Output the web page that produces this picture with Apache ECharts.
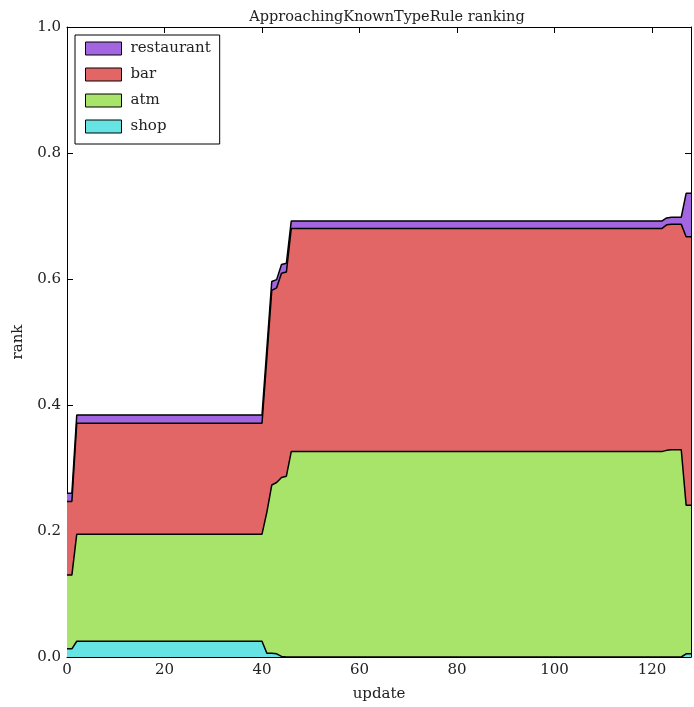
<!DOCTYPE html>
<html>
<head>
<meta charset="utf-8">
<script src="https://cdn.jsdelivr.net/npm/echarts@6/dist/echarts.min.js"></script>
<style>
  html, body { margin: 0; height: 100%; background: #fff; }
  #chart { width: 694px; height: 707px; }
</style>
</head>
<body>
<div id="chart"></div>
<script>
  // x positions where the curves bend (straight segments in between)
  const updates = [0, 1, 2, 40, 41, 42, 43, 44, 45, 46, 122, 123, 124, 126, 127, 128];

  // per-type share (bottom -> top)
  const shop       = [0.013, 0.013, 0.025, 0.025, 0.006, 0.006, 0.005, 0.001, 0.000, 0.000, 0.000, 0.000, 0.000, 0.000, 0.005, 0.005];
  const atm        = [0.117, 0.117, 0.170, 0.170, 0.224, 0.267, 0.272, 0.284, 0.287, 0.326, 0.326, 0.328, 0.329, 0.329, 0.236, 0.236];
  const bar        = [0.117, 0.117, 0.176, 0.176, 0.245, 0.309, 0.309, 0.324, 0.324, 0.354, 0.354, 0.358, 0.358, 0.358, 0.426, 0.426];
  const restaurant = [0.013, 0.013, 0.013, 0.013, 0.015, 0.014, 0.013, 0.014, 0.014, 0.012, 0.012, 0.011, 0.011, 0.011, 0.069, 0.069];

  const xTicks = [0, 20, 40, 60, 80, 100, 120];
  const yTicks = [0.0, 0.2, 0.4, 0.6, 0.8, 1.0];

  const font = '"DejaVu Serif", "Liberation Serif", serif';

  const chart = echarts.init(document.getElementById('chart'), null, { renderer: 'canvas' });

  // echarts stacks the x dim when both axes are value axes, so build the
  // running totals here and paint the tallest one first
  const layers = [['shop', shop, '#66e3e3'], ['atm', atm, '#a8e36a'], ['bar', bar, '#e26666'], ['restaurant', restaurant, '#a366e0']];
  const running = updates.map(() => 0);
  const series = [];
  layers.forEach(([name, vals, color]) => {
    vals.forEach((v, i) => { running[i] += v; });
    series.unshift({
      name: name,
      type: 'line',
      data: running.map((v, i) => [updates[i], +v.toFixed(4)]),
      showSymbol: false,
      color: color,
      lineStyle: { color: '#000', width: 1.5 },
      areaStyle: { color: color, opacity: 1 },
      emphasis: { disabled: true }
    });
  });

  const frameAxis = {
    axisLine: { show: true, onZero: false, lineStyle: { color: '#000', width: 1 } },
    axisTick: { show: true, inside: true, length: 6, lineStyle: { color: '#000' } },
    splitLine: { show: false }
  };

  const option = {
    animation: false,
    title: {
      text: 'ApproachingKnownTypeRule ranking',
      left: 382,
      textAlign: 'center',
      top: 5,
      textStyle: { fontFamily: font, fontSize: 14.5, fontWeight: 'normal', color: '#222' }
    },
    grid: { left: 67, right: 2, top: 27, bottom: 50 },
    legend: {
      orient: 'vertical',
      left: 75,
      top: 35,
      data: ['restaurant', 'bar', 'atm', 'shop'],
      icon: 'rect',
      itemWidth: 36,
      itemHeight: 13,
      itemGap: 11,
      padding: [6, 9, 10, 10],
      borderColor: '#000',
      borderWidth: 1,
      backgroundColor: '#fff',
      itemStyle: { borderColor: '#000', borderWidth: 1 },
      textStyle: { fontFamily: font, fontSize: 15, color: '#222', padding: [0, 0, 0, 4] }
    },
    xAxis: [
      Object.assign({
        type: 'value', min: 0, max: 128, interval: 20,
        name: 'update', nameLocation: 'middle', nameGap: 30,
        nameTextStyle: { fontFamily: font, fontSize: 15, color: '#222' },
        axisLabel: { fontFamily: font, fontSize: 15, color: '#222', margin: 6,
          formatter: v => xTicks.indexOf(v) >= 0 ? String(v) : '' }
      }, frameAxis),
      Object.assign({
        type: 'value', min: 0, max: 128, interval: 20, position: 'top',
        axisLabel: { show: false }
      }, frameAxis)
    ],
    yAxis: [
      Object.assign({
        type: 'value', min: 0, max: 1, interval: 0.2,
        name: 'rank', nameLocation: 'middle', nameGap: 41,
        nameTextStyle: { fontFamily: font, fontSize: 15, color: '#222' },
        axisLabel: { fontFamily: font, fontSize: 15, color: '#222', margin: 6,
          formatter: v => yTicks.some(t => Math.abs(t - v) < 1e-9) ? v.toFixed(1) : '' }
      }, frameAxis),
      Object.assign({
        type: 'value', min: 0, max: 1, interval: 0.2, position: 'right',
        axisLabel: { show: false }
      }, frameAxis)
    ],
    series: series
  };

  chart.setOption(option);
  window.addEventListener('resize', chart.resize);
</script>
</body>
</html>
